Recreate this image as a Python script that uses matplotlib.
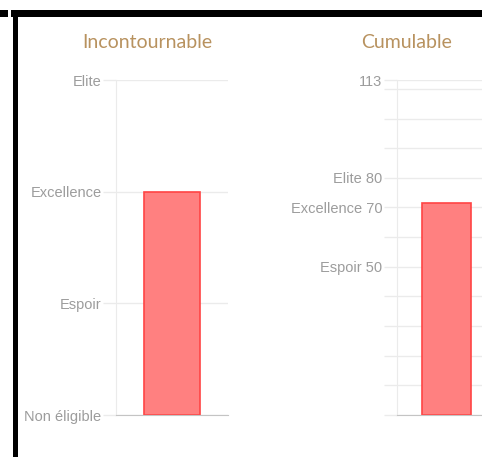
import matplotlib.pyplot as plt
from matplotlib.patches import Rectangle

# données
niveaux = ["Non éligible", "Espoir", "Excellence", "Elite"]
incontournable = [2]
cumulable = [71.5]
cumul_max = 113
cumul_ticks = [0, 10, 20, 30, 40, 50, 60, 70, 80, 90, 100, 110, 113]
cumul_labels = {113: "113", 80: "Elite 80", 70: "Excellence 70", 50: "Espoir 50"}
titres = ["Incontournable", "Cumulable"]

W, H = 482, 457
fig = plt.figure(figsize=(W / 100, H / 100), dpi=100)

def box(x0, y0, x1, y1):
    # pixels (origine en haut à gauche) -> fraction de figure
    return [x0 / W, 1 - y1 / H, (x1 - x0) / W, (y1 - y0) / H]

grid_c = "#ebebeb"
zero_c = "#c4c4c4"
lab_c = "#9c9c9c"
lab_font = ["Liberation Sans", "DejaVu Sans"]

def style(ax, ticks, labels, ylim):
    ax.set_ylim(*ylim)
    ax.set_xlim(-0.5, 0.5)
    ax.set_yticks(ticks)
    ax.set_yticklabels(labels, color=lab_c, fontsize=10.5, family=lab_font)
    ax.set_xticks([])
    ax.tick_params(axis="y", length=9.6, width=1, color=grid_c, pad=0.8)
    ax.yaxis.get_major_ticks()[0].tick1line.set_color(zero_c)
    ax.grid(axis="y", color=grid_c, linewidth=1)
    ax.set_axisbelow(True)
    for s in ["top", "right"]:
        ax.spines[s].set_visible(False)
    ax.spines["left"].set_color(grid_c)
    ax.spines["bottom"].set_color(zero_c)
    ax.set_facecolor("none")

ax1 = fig.add_axes(box(116, 80, 228, 415))
ax1.bar(0, incontournable, width=0.5, color="#ff8080", edgecolor="#ff4444", linewidth=1.2)
style(ax1, range(len(niveaux)), niveaux, (0, len(niveaux) - 1))

ax2 = fig.add_axes(box(397, 80, 496, 415))
ax2.bar(0, cumulable, width=0.5, color="#ff8080", edgecolor="#ff4444", linewidth=1.2)
style(ax2, cumul_ticks, [cumul_labels.get(t, "") for t in cumul_ticks], (0, cumul_max))

fig.text(147 / W, 1 - 42 / H, titres[0], ha="center", va="center",
         color="#b8925f", fontsize=14, family="Lato")
fig.text(407 / W, 1 - 42 / H, titres[1], ha="center", va="center",
         color="#b8925f", fontsize=14, family="Lato")

# cadre noir
for x0, y0, x1, y1 in [(0, 10, 8, 17), (11, 10, 482, 17), (13, 10, 18, 457)]:
    fig.add_artist(Rectangle((x0 / W, 1 - y1 / H), (x1 - x0) / W, (y1 - y0) / H,
                             transform=fig.transFigure, color="black", lw=0))

plt.savefig("out.png", dpi=100)
